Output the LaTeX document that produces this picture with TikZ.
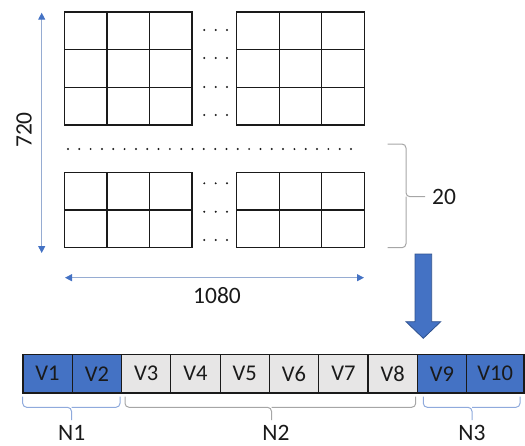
\documentclass[tikz,border=0pt]{standalone}
\usepackage{fontspec}
\setmainfont{Carlito}
\usetikzlibrary{arrows.meta}
\definecolor{pblue}{HTML}{4472C4}
\definecolor{pblueedge}{HTML}{2F528F}
\definecolor{pline}{RGB}{150,172,210}
\definecolor{pgray}{HTML}{E7E6E6}
\definecolor{bgray}{HTML}{A6A6A6}
\definecolor{bblue}{RGB}{143,170,220}
\definecolor{ink}{HTML}{1A1A1A}
\tikzset{
  gridln/.style={line width=1.3pt, ink},
  cell/.style={draw=ink, line width=1.2pt, minimum width=49.3, minimum height=38.3, inner sep=0pt, anchor=north west, font=\fontsize{22.5}{26}\selectfont, text=ink},
  lbl/.style={font=\fontsize{23.5}{27}\selectfont, text=ink, inner sep=0pt},
  dimline/.style={pline, line width=1pt, {Triangle[length=7pt,width=7pt,color=pblue,fill=pblue]}-{Triangle[length=7pt,width=7pt,color=pblue,fill=pblue]}},
  bracegray/.style={bgray, line width=1pt, rounded corners=4pt},
  braceblue/.style={bblue, line width=1pt, rounded corners=4pt},
  dotc/.style={fill=ink, draw=none}
}
\begin{document}
\begin{tikzpicture}[x=1pt,y=-1pt]
\useasboundingbox (0,0) rectangle (525,445);
% top grids (3x3)
\foreach \gx in {64.3,236.7}{
  \foreach \i in {1,2}{
    \draw[gridln] (\gx+\i*42.57,12) -- (\gx+\i*42.57,125);
    \draw[gridln] (\gx,12+\i*37.67) -- (\gx+127.7,12+\i*37.67);
  }
  \draw[gridln] (\gx,12) rectangle (\gx+127.7,125);
}
% bottom grids (2x3)
\foreach \gx in {64.3,236.7}{
  \foreach \i in {1,2}{
    \draw[gridln] (\gx+\i*42.57,172.3) -- (\gx+\i*42.57,247.7);
  }
  \draw[gridln] (\gx,210) -- (\gx+127.7,210);
  \draw[gridln] (\gx,172.3) rectangle (\gx+127.7,247.7);
}
% vertical dot columns
\foreach \dx in {204.3,215.7,227}{
  \foreach \dy in {30,58,87,115,183.3,211.7,240}{
    \fill[dotc] (\dx,\dy) circle (1.1);
  }
}
% horizontal dot row
\foreach \k in {0,...,25}{
  \fill[dotc] (68+\k*11.32,149) circle (1.1);
}
% dimension arrows
\coordinate (vtop) at (41.7,12.7);
\coordinate (vbot) at (41.7,253);
\coordinate (hl) at (65,277.7);
\coordinate (hr) at (364,277.7);
\draw[dimline] (vbot) -- (vtop);
\draw[dimline] (hl) -- (hr);
\node[lbl, rotate=90] (h720) at (24,130) {720};
\node[lbl] (w1080) at (217,295.7) {1080};
% right brace
\coordinate (rbt) at (387.7,144);
\coordinate (rbb) at (387.7,247.7);
\coordinate (rbtip) at (425,196.7);
\draw[bracegray] (rbt) -| (406,196.7) -- (rbtip);
\draw[bracegray] (rbb) -| (406,196.7);
\node[lbl, anchor=west] (n20) at (432,197) {20};
% big blue arrow
\draw[fill=pblue, draw=pblueedge, line width=0.8pt]
  (415,254) -- (431.7,254) -- (431.7,321.7) -- (440.7,321.7) -- (423.3,338.3) -- (406,321.7) -- (415,321.7) -- cycle;
% bar cells
\node[cell, fill=pblue] (V1) at (22.3,354) {V1};
\node[cell, fill=pblue] (V2) at (71.6,354) {V2};
\node[cell, fill=pgray] (V3) at (120.9,354) {V3};
\node[cell, fill=pgray] (V4) at (170.2,354) {V4};
\node[cell, fill=pgray] (V5) at (219.5,354) {V5};
\node[cell, fill=pgray] (V6) at (268.8,354) {V6};
\node[cell, fill=pgray] (V7) at (318.1,354) {V7};
\node[cell, fill=pgray] (V8) at (367.4,354) {V8};
\node[cell, fill=pblue] (V9) at (416.7,354) {V9};
\node[cell, fill=pblue, minimum width=57.3] (V10) at (466,354) {V10};
% bottom braces
\draw[braceblue] (22.7,396.7) |- (71.5,407.3) -- (71.5,420);
\draw[braceblue] (120,396.7) |- (71.5,407.3);
\draw[bracegray] (125,396.7) |- (271.5,407.3) -- (271.5,420);
\draw[bracegray] (415.7,396.7) |- (271.5,407.3);
\draw[braceblue] (423.3,396.7) |- (472,407.3) -- (472,420);
\draw[braceblue] (520,396.7) |- (472,407.3);
\node[lbl] (N1) at (71.7,433) {N1};
\node[lbl] (N2) at (276,433) {N2};
\node[lbl] (N3) at (472,433) {N3};
\end{tikzpicture}
\end{document}
